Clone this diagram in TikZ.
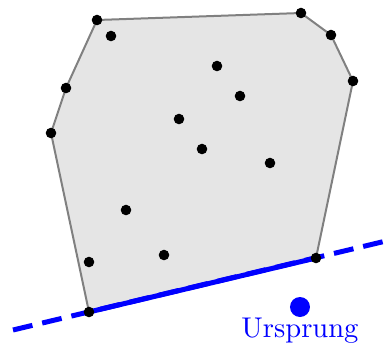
\documentclass[tikz,border=0pt]{standalone}
\begin{document}
\begin{tikzpicture}[x=0.35pt, y=-0.35pt,
    punkt/.style={fill=black},
    huelle/.style={draw=gray, fill=gray!20, line width=0.7pt, line join=round}]
    \useasboundingbox (0,0) rectangle (386,347);
    % Ecken der konvexen Huelle
    \coordinate (h1) at (97,20);
    \coordinate (h2) at (301,13);
    \coordinate (h3) at (331,35);
    \coordinate (h4) at (353,81);
    \coordinate (h5) at (316,258);
    \coordinate (h6) at (89,312);
    \coordinate (h7) at (51,133);
    \coordinate (h8) at (66,88);
    \draw[huelle] (h1) -- (h2) -- (h3) -- (h4) -- (h5) -- (h6) -- (h7) -- (h8) -- cycle;

    % Tangente durch h6 und h5
    \coordinate (tl) at (13,330);
    \coordinate (tr) at (386,241);
    \draw[blue, line width=1.75pt, dash pattern=on 7pt off 3.5pt] (tl) -- (tr);
    \draw[blue, line width=1.75pt] (h6) -- (h5);

    % Punkte
    \foreach \p in {h1,h2,h3,h4,h5,h6,h7,h8}
        \fill[punkt] (\p) circle (1.85pt);
    \foreach \x/\y in {111/36, 217/66, 240/96, 179/119, 202/149, 270/163, 126/210, 164/255, 89/262}
        \fill[punkt] (\x,\y) circle (1.85pt);

    % Ursprung
    \fill[blue] (300,307) circle (3.5pt) coordinate (o);
    \node[blue, inner sep=0pt] (olabel) at (300,331) {Ursprung};
\end{tikzpicture}
\end{document}
